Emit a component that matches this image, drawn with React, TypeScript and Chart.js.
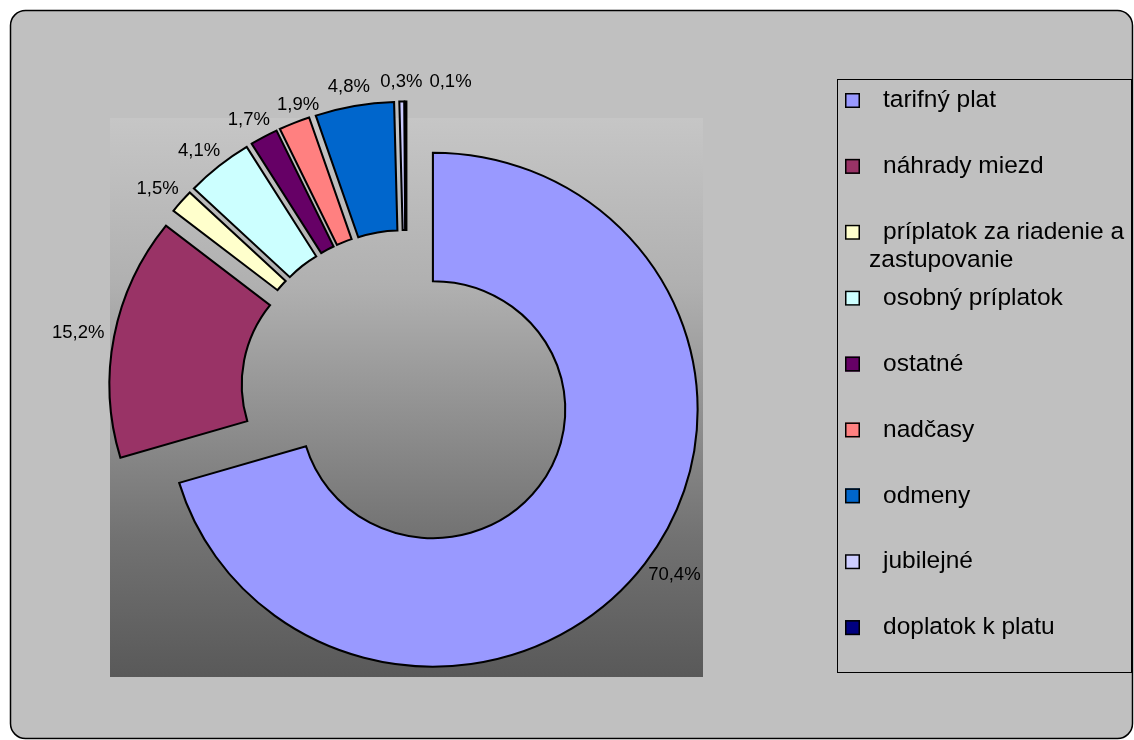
import React, { useEffect, useRef } from 'react';
import { Chart, registerables } from 'chart.js';

Chart.register(...registerables);

// ---- data ----
const categories = [
  'tarifný plat',
  'náhrady miezd',
  'príplatok za riadenie a zastupovanie',
  'osobný príplatok',
  'ostatné',
  'nadčasy',
  'odmeny',
  'jubilejné',
  'doplatok k platu',
];
const shares = [70.4, 15.2, 1.5, 4.1, 1.7, 1.9, 4.8, 0.3, 0.1];
const sliceColors = [
  '#9999FF',
  '#993366',
  '#FFFFCC',
  '#CCFFFF',
  '#660066',
  '#FF8080',
  '#0066CC',
  '#CCCCFF',
  '#000080',
];

// ---- layout / style ----
const W = 1134;
const H = 740;
const FONT = '"Liberation Sans", Arial, sans-serif';
const CENTER_X = 406.5;
const CENTER_Y = 390.5;
const HALF = 300;
const OUTER_R = 257;
const EXPLODE = 32;
const STRETCH_X = 1.03;
const LABEL_GAP = 10;
const LABEL_FONT = 18.5;
const LEGEND_FONT = 24.5;
const PLOT = { left: 110, top: 118, right: 703, bottom: 677 };
const LEGEND = { left: 837.5, top: 79.5, right: 1131.5, bottom: 672.5 };

const fmt = (v: number) => v.toFixed(1).replace('.', ',') + '%';

function roundRectPath(ctx: CanvasRenderingContext2D, x: number, y: number, w: number, h: number, r: number) {
  ctx.beginPath();
  ctx.moveTo(x + r, y);
  ctx.lineTo(x + w - r, y);
  ctx.arcTo(x + w, y, x + w, y + r, r);
  ctx.lineTo(x + w, y + h - r);
  ctx.arcTo(x + w, y + h, x + w - r, y + h, r);
  ctx.lineTo(x + r, y + h);
  ctx.arcTo(x, y + h, x, y + h - r, r);
  ctx.lineTo(x, y + r);
  ctx.arcTo(x, y, x + r, y, r);
  ctx.closePath();
}

const backgroundPlugin = {
  id: 'excelBackground',
  beforeDraw(chart: any) {
    const ctx: CanvasRenderingContext2D = chart.ctx;
    ctx.save();
    ctx.fillStyle = '#ffffff';
    ctx.fillRect(0, 0, W, H);
    roundRectPath(ctx, 10.5, 10.5, 1122, 728, 15);
    ctx.fillStyle = '#c0c0c0';
    ctx.fill();
    ctx.lineWidth = 1.5;
    ctx.strokeStyle = '#000000';
    ctx.stroke();
    const g = ctx.createLinearGradient(0, PLOT.top, 0, PLOT.bottom);
    g.addColorStop(0, '#c6c6c6');
    g.addColorStop(0.3, '#b0b0b0');
    g.addColorStop(0.75, '#727272');
    g.addColorStop(1, '#595959');
    ctx.fillStyle = g;
    ctx.fillRect(PLOT.left, PLOT.top, PLOT.right - PLOT.left, PLOT.bottom - PLOT.top);
    ctx.restore();
  },
};

const explodePlugin = {
  id: 'explodedArcs',
  beforeDatasetsDraw(chart: any) {
    const ctx: CanvasRenderingContext2D = chart.ctx;
    const meta = chart.getDatasetMeta(0);
    meta.data.forEach((arc: any) => {
      const { x, y, startAngle, endAngle } = arc.getProps(['x', 'y', 'startAngle', 'endAngle'], true);
      const mid = (startAngle + endAngle) / 2;
      ctx.save();
      ctx.translate(x, y);
      ctx.scale(STRETCH_X, 1);
      ctx.translate(Math.cos(mid) * EXPLODE, Math.sin(mid) * EXPLODE);
      ctx.translate(-x, -y);
      arc.draw(ctx);
      ctx.restore();
    });
    return false;
  },
};

function wrapText(ctx: CanvasRenderingContext2D, text: string, firstWidth: number, restWidth: number) {
  const words = text.split(' ');
  const lines: string[] = [];
  let cur = '';
  for (const w of words) {
    const trial = cur ? cur + ' ' + w : w;
    const maxW = lines.length === 0 ? firstWidth : restWidth;
    if (cur && ctx.measureText(trial).width > maxW) {
      lines.push(cur);
      cur = w;
    } else {
      cur = trial;
    }
  }
  if (cur) lines.push(cur);
  return lines;
}

const overlayPlugin = {
  id: 'labelsAndLegend',
  afterDraw(chart: any) {
    const ctx: CanvasRenderingContext2D = chart.ctx;
    const meta = chart.getDatasetMeta(0);
    const ds = chart.data.datasets[0];
    ctx.save();

    // data labels
    ctx.font = `${LABEL_FONT}px ${FONT}`;
    ctx.textAlign = 'center';
    ctx.textBaseline = 'middle';
    ctx.fillStyle = '#000000';
    const placed: { x: number; y: number; w: number; h: number }[] = [];
    meta.data.forEach((arc: any, i: number) => {
      const { x, y, startAngle, endAngle, outerRadius } = arc.getProps(
        ['x', 'y', 'startAngle', 'endAngle', 'outerRadius'],
        true
      );
      const mid = (startAngle + endAngle) / 2;
      const dx = Math.cos(mid);
      const dy = Math.sin(mid);
      const text = fmt(ds.data[i]);
      const w = ctx.measureText(text).width;
      const h = LABEL_FONT;
      const dist = EXPLODE + outerRadius + LABEL_GAP;
      let lx = x + STRETCH_X * dist * dx + (dx * w) / 2;
      const ly = y + dist * dy + (dy * h) / 2;
      for (const p of placed) {
        if (Math.abs(lx - p.x) < (w + p.w) / 2 + 4 && Math.abs(ly - p.y) < (h + p.h) / 2) {
          lx = p.x + p.w / 2 + 7 + w / 2;
        }
      }
      placed.push({ x: lx, y: ly, w, h });
      ctx.fillText(text, lx, ly);
    });

    // legend
    ctx.lineWidth = 1;
    ctx.strokeStyle = '#000000';
    ctx.strokeRect(LEGEND.left, LEGEND.top, LEGEND.right - LEGEND.left, LEGEND.bottom - LEGEND.top);
    const labels: string[] = chart.data.labels;
    const step = (LEGEND.bottom - LEGEND.top) / labels.length;
    const markerX = LEGEND.left + 7.5;
    const markerSize = 15;
    const textX = markerX + markerSize + 23;
    const wrapX = markerX + markerSize + 9;
    ctx.font = `${LEGEND_FONT}px ${FONT}`;
    ctx.textAlign = 'left';
    ctx.textBaseline = 'middle';
    labels.forEach((name, i) => {
      const yc = LEGEND.top + 21 + i * step;
      ctx.fillStyle = ds.backgroundColor[i];
      ctx.fillRect(markerX, yc - markerSize / 2, markerSize, markerSize);
      ctx.strokeStyle = '#000000';
      ctx.lineWidth = 1.5;
      ctx.strokeRect(markerX + 0.75, yc - markerSize / 2 + 0.75, markerSize - 1.5, markerSize - 1.5);
      ctx.fillStyle = '#000000';
      const lines = wrapText(ctx, name, LEGEND.right - textX - 2, LEGEND.right - wrapX - 2);
      lines.forEach((ln, k) => {
        ctx.fillText(ln, k === 0 ? textX : wrapX, yc + k * 28);
      });
    });

    ctx.restore();
  },
};

export default function App() {
  const ref = useRef<HTMLCanvasElement>(null);
  useEffect(() => {
    if (!ref.current) return;
    const chart = new Chart(ref.current, {
      type: 'doughnut',
      data: {
        labels: categories,
        datasets: [
          {
            data: shares,
            backgroundColor: sliceColors,
            borderColor: '#000000',
            borderWidth: 2,
            borderJoinStyle: 'miter',
          } as any,
        ],
      },
      options: {
        responsive: false,
        animation: false,
        devicePixelRatio: 1,
        radius: OUTER_R,
        cutout: '50%',
        events: [],
        layout: {
          padding: {
            left: CENTER_X - HALF,
            right: W - CENTER_X - HALF,
            top: CENTER_Y - HALF,
            bottom: H - CENTER_Y - HALF,
          },
        },
        plugins: {
          legend: { display: false },
          tooltip: { enabled: false },
        },
      } as any,
      plugins: [backgroundPlugin, explodePlugin, overlayPlugin],
    });
    return () => chart.destroy();
  }, []);
  return (
    <div style={{ position: 'fixed', left: 0, top: 0, width: W, height: H }}>
      <canvas ref={ref} width={W} height={H} style={{ display: 'block' }} />
    </div>
  );
}
